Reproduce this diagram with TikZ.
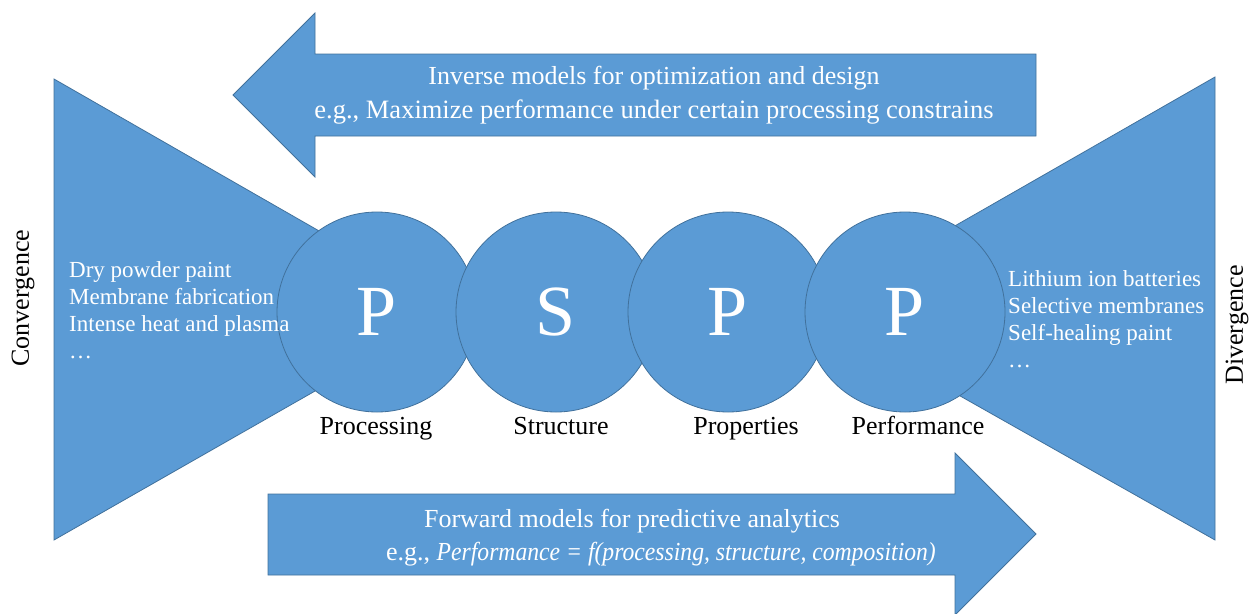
\documentclass[tikz,border=0pt]{standalone}
\usepackage{fontspec}
\setmainfont{Liberation Serif}
\definecolor{shapefill}{HTML}{5B9BD5}
\definecolor{shapeline}{HTML}{41719C}

\begin{document}
\begin{tikzpicture}[x=1pt,y=-1pt,
  blueshape/.style={fill=shapefill,draw=shapeline,line width=0.8pt},
  ball/.style={blueshape,circle,minimum size=200pt,inner sep=0pt,text=white,
    font=\fontsize{72}{72}\selectfont},
  stagelabel/.style={anchor=base,font=\fontsize{26}{30}\selectfont,text=black},
  arrowtext/.style={align=center,text=white,font=\fontsize{26}{34}\selectfont},
  captionline/.style={anchor=base,inner sep=0pt,text=white,font=\fontsize{26}{34}\selectfont},
  listtext/.style={anchor=west,align=left,text=white,inner sep=0pt,
    font=\fontsize{23}{27}\selectfont},
  sidetext/.style={rotate=90,font=\fontsize{26}{30}\selectfont,text=black}]

\useasboundingbox (0,0) rectangle (1257,613);

% funnels on both sides
\draw[blueshape] (54,79) -- (457,310) -- (54,540) -- cycle;
\draw[blueshape] (1215,77) -- (808,310) -- (1215,540) -- cycle;

% inverse (leftward) and forward (rightward) block arrows
\draw[blueshape] (233,95) -- (315,13) -- (315,54) -- (1036,54) -- (1036,136)
  -- (315,136) -- (315,177) -- cycle;
\draw[blueshape] (268,494) -- (955,494) -- (955,453) -- (1036,534)
  -- (955,615) -- (955,575) -- (268,575) -- cycle;

% the four P-S-P-P circles
\node[ball] (proc) at (377,312) {P};
\node[ball] (struc) at (556,312) {S};
\node[ball] (prop) at (728,312) {P};
\node[ball] (perf) at (905,312) {P};

% stage names, sharing one baseline
\node[stagelabel] (lproc) at (376,434) {Processing};
\node[stagelabel] (lstruc) at (561,434) {Structure};
\node[stagelabel] (lprop) at (746,434) {Properties};
\node[stagelabel] (lperf) at (918,434) {Performance};

% arrow captions
\node[arrowtext] (inv) at (654,95) {Inverse models for optimization and design\\
  \fontsize{26.5}{34}\selectfont e.g., Maximize performance under certain processing constrains};
\node[captionline] (fwd) at (632,527) {Forward models for predictive analytics};
\node[captionline] (fwdeg) at (661,560)
  {e.g., \scalebox{0.91}[1]{\itshape Performance = f(processing, structure, composition)}};

% example lists
\node[listtext] (conv) at (69,310) {Dry powder paint\\Membrane fabrication\\
  Intense heat and plasma\\\dots};
\node[listtext] (div) at (1008,319) {Lithium ion batteries\\Selective membranes\\
  Self-healing paint\\\dots};

% side captions
\node[sidetext] (convlbl) at (23,298) {Convergence};
\node[sidetext] (divlbl) at (1237,325) {Divergence};
\end{tikzpicture}
\end{document}
